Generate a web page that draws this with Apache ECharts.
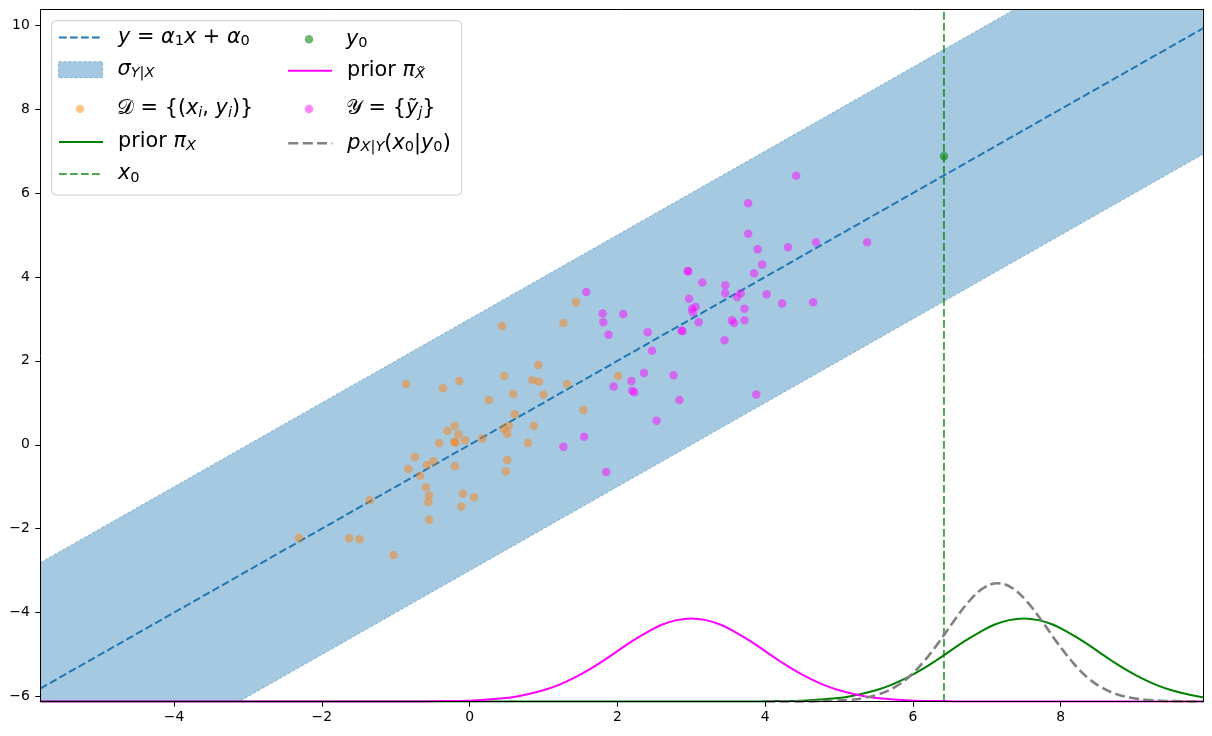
<!DOCTYPE html>
<html><head><meta charset="utf-8">
<script src="https://cdn.jsdelivr.net/npm/echarts@6/dist/echarts.min.js"></script>
<style>html,body{margin:0;padding:0;background:#fff}#c{width:1212px;height:736px}</style>
</head><body><div id="c"></div>
<script>
// ---- axis ranges & ticks ----
const xRange = [-5.81, 9.93];
const yRange = [-6.124, 10.38];
const xTicks = [-4, -2, 0, 2, 4, 6, 8];
const yTicks = [-6, -4, -2, 0, 2, 4, 6, 8, 10];

// ---- regression line and band ----
const fitX = [-5.81, 9.93];
const fitY = [-5.81, 9.93];
const bandX = [-5.81, 9.93];
const bandLow = [-8.81, 6.93];
const bandHigh = [-2.81, 12.93];

// ---- D = {(x_i, y_i)} ----
const dX = [-2.31,-1.63,-1.49,-1.03,-1.35,-0.86,-0.83,-0.74,-0.67,-0.59,-0.58,-0.55,-0.56,-0.55,-0.49,-0.41,-0.36,-0.30,-0.20,-0.15,-0.21,-0.19,-0.14,-0.06,-0.20,-0.09,0.06,-0.11,0.17,0.26,0.44,0.46,0.47,0.51,0.53,0.51,0.49,0.59,0.61,0.79,0.85,0.87,0.93,0.94,1.00,1.27,1.32,1.54,1.44,2.01];
const dY = [-2.22,-2.23,-2.25,-2.63,-1.32,1.45,-0.58,-0.29,-0.74,-1.01,-0.48,-1.21,-1.37,-1.79,-0.39,0.04,1.35,0.33,0.45,0.25,0.07,0.05,1.52,0.11,-0.51,-1.17,-1.25,-1.47,0.15,1.07,2.83,0.38,1.64,0.26,0.45,-0.36,-0.63,1.21,0.73,0.04,1.54,0.45,1.90,1.50,1.19,2.90,1.45,0.83,3.40,1.64];

// ---- Y = {y~_j} ----
const ytX = [4.42,3.77,3.77,3.90,4.31,4.69,5.38,3.96,3.85,2.95,2.96,3.15,3.46,3.46,3.67,3.62,4.02,2.97,3.06,3.01,3.02,3.72,4.23,4.65,3.10,3.55,3.58,3.72,2.87,2.88,3.45,2.76,2.84,3.88,1.58,1.80,1.81,2.08,1.88,2.41,2.47,2.36,2.19,1.95,2.20,2.23,2.53,1.55,1.27,1.85];
const ytY = [6.41,5.76,5.03,4.66,4.71,4.83,4.83,4.30,4.09,4.14,4.13,3.87,3.80,3.61,3.61,3.52,3.59,3.48,3.29,3.24,3.16,3.24,3.37,3.40,2.92,2.97,2.90,2.97,2.72,2.71,2.49,1.66,1.07,1.20,3.64,3.13,2.92,3.12,2.62,2.68,2.24,1.71,1.52,1.39,1.29,1.25,0.57,0.19,-0.05,-0.65];

// ---- x0, y0 ----
const x0 = 6.42;
const y0 = 6.88;

// ---- prior pi_X~ (magenta) ----
const priorXtX = [-5.81,-1.0,-0.8,-0.6,-0.4,-0.2,0.0,0.2,0.4,0.6,0.8,1.0,1.2,1.4,1.6,1.8,2.0,2.2,2.4,2.6,2.8,3.0,3.2,3.4,3.6,3.8,4.0,4.2,4.4,4.6,4.8,5.0,5.2,5.4,5.6,5.8,6.0,6.2,6.4,6.6,6.8,7.0,9.93];
const priorXtY = [-6.12,-6.12,-6.12,-6.12,-6.11,-6.11,-6.10,-6.08,-6.05,-6.01,-5.94,-5.85,-5.73,-5.57,-5.38,-5.16,-4.92,-4.68,-4.47,-4.29,-4.18,-4.14,-4.18,-4.29,-4.47,-4.68,-4.92,-5.16,-5.38,-5.57,-5.73,-5.85,-5.94,-6.01,-6.05,-6.08,-6.10,-6.11,-6.11,-6.12,-6.12,-6.12,-6.12];

// ---- prior pi_X (green) ----
const priorXX = [-5.81,3.5,3.7,3.9,4.1,4.3,4.5,4.7,4.9,5.1,5.3,5.5,5.7,5.9,6.1,6.3,6.5,6.7,6.9,7.1,7.3,7.5,7.7,7.9,8.1,8.3,8.5,8.7,8.9,9.1,9.3,9.5,9.7,9.9,9.93];
const priorXY = [-6.12,-6.12,-6.12,-6.12,-6.11,-6.11,-6.10,-6.08,-6.05,-6.01,-5.94,-5.85,-5.73,-5.57,-5.38,-5.16,-4.92,-4.68,-4.47,-4.29,-4.18,-4.14,-4.18,-4.29,-4.47,-4.68,-4.92,-5.16,-5.38,-5.57,-5.73,-5.85,-5.94,-6.01,-6.02];

// ---- posterior p_{X|Y}(x0|y0) (gray dashed) ----
const postX = [4.0,4.35,4.55,4.75,4.95,5.15,5.35,5.55,5.75,5.95,6.15,6.35,6.55,6.75,6.95,7.15,7.35,7.55,7.75,7.95,8.15,8.35,8.55,8.75,8.95,9.15,9.35,9.55,9.75,9.93];
const postY = [-6.12,-6.12,-6.12,-6.11,-6.10,-6.08,-6.03,-5.94,-5.78,-5.53,-5.16,-4.71,-4.21,-3.75,-3.42,-3.30,-3.42,-3.75,-4.21,-4.71,-5.16,-5.53,-5.78,-5.94,-6.03,-6.08,-6.10,-6.11,-6.12,-6.12];

const zip = (a, b) => a.map((v, i) => [v, b[i]]);

// ---- legend labels (rich text) ----
const legendText = {
  fit: '{i|y}{r| = }{i|α}{s|1}{i|x}{r| + }{i|α}{s|0}',
  band: '{i|σ}{si|Y|X}',
  D: '{c|𝒟}{r| = {(}{i|x}{si|i}{r|, }{i|y}{si|i}{r|)}}',
  priorX: 'prior {i|π}{si|X}',
  x0: '{i|x}{s|0}',
  y0: '{i|y}{s|0}',
  priorXt: 'prior {i|π}{si|X\u0303}',
  Yt: '{c|𝒴}{r| = {}{i|ỹ}{si|j}}',
  post: '{i|p}{si|X|Y}({i|x}{s|0}|{i|y}{s|0})'
};
const FF = "'DejaVu Sans', sans-serif";
const LH = 30;
const base = {fontFamily: FF, fontSize: 20.8, lineHeight: LH, color: '#000'};
const subBase = {fontFamily: FF, fontSize: 14.6, verticalAlign: 'bottom', padding: [0, 0, 3.5, 0], color: '#000'};
const legendTextStyle = Object.assign({}, base, {
  padding: [0, 0, 0, 10],
  rich: {
    r: base,
    i: Object.assign({}, base, {fontStyle: 'italic'}),
    c: Object.assign({}, base, {fontFamily: "'DejaVu Sans', 'DejaVu Serif', 'Noto Sans', serif"}),
    s: subBase,
    si: Object.assign({}, subBase, {fontStyle: 'italic'})
  }
});
const ICON_W = 44;
function leg(name, colX, center, itemHeight, extra, isDot) {
  return {
    show: true,
    left: isDot ? colX + (ICON_W - itemHeight) / 2 : colX,
    top: center - LH / 2, padding: 0, itemGap: 0,
    itemWidth: ICON_W, itemHeight: itemHeight, selectedMode: false, z: 6,
    data: [Object.assign({name: name}, extra || {})],
    formatter: n => legendText[n],
    textStyle: legendTextStyle
  };
}
const dash = [7.7, 3.3];
const C_BLUE = '#1f77b4';
const C_BAND = 'rgba(31,119,180,0.4)';
const C_ORANGE = 'rgba(255,127,14,0.6)';
const C_MAG = 'rgba(255,0,255,0.6)';
const C_G7 = 'rgba(0,128,0,0.7)';

// polygon clip (Sutherland-Hodgman) against grid rectangle, pixel space
function clipPoly(pts, r) {
  const x1 = r.x, x2 = r.x + r.width, y1 = r.y, y2 = r.y + r.height;
  const tests = [
    [p => p[0] >= x1, (a, b) => [x1, a[1] + (x1 - a[0]) / (b[0] - a[0]) * (b[1] - a[1])]],
    [p => p[0] <= x2, (a, b) => [x2, a[1] + (x2 - a[0]) / (b[0] - a[0]) * (b[1] - a[1])]],
    [p => p[1] >= y1, (a, b) => [a[0] + (y1 - a[1]) / (b[1] - a[1]) * (b[0] - a[0]), y1]],
    [p => p[1] <= y2, (a, b) => [a[0] + (y2 - a[1]) / (b[1] - a[1]) * (b[0] - a[0]), y2]]
  ];
  let out = pts;
  tests.forEach(([inside, inter]) => {
    const inp = out; out = [];
    for (let i = 0; i < inp.length; i++) {
      const cur = inp[i], prev = inp[(i + inp.length - 1) % inp.length];
      if (inside(cur)) { if (!inside(prev)) out.push(inter(prev, cur)); out.push(cur); }
      else if (inside(prev)) out.push(inter(prev, cur));
    }
  });
  return out;
}

const axisLbl = {color: '#000', fontSize: 13.9, fontFamily: FF};
const fmt = v => (v < 0 ? '\u2212' + Math.abs(v) : String(v));

const chart = echarts.init(document.getElementById('c'), null, {renderer: 'canvas'});
chart.setOption({
  animation: false,
  backgroundColor: '#fff',
  grid: {left: 40.3, right: 8.7, top: 9.3, bottom: 34.3, outerBoundsMode: 'none', containLabel: false},
  xAxis: [{
    type: 'value', min: xRange[0], max: xRange[1], z: 5,
    axisLine: {show: true, onZero: false, lineStyle: {color: '#000', width: 1}},
    axisTick: {show: true, inside: false, length: 5, customValues: xTicks, lineStyle: {color: '#000'}},
    axisLabel: Object.assign({customValues: xTicks, formatter: fmt, margin: 9}, axisLbl),
    splitLine: {show: false}
  }, {
    type: 'value', position: 'top', min: xRange[0], max: xRange[1], z: 5,
    axisLine: {show: true, onZero: false, lineStyle: {color: '#000', width: 1}},
    axisTick: {show: false}, axisLabel: {show: false}, splitLine: {show: false}
  }],
  yAxis: [{
    type: 'value', min: yRange[0], max: yRange[1], z: 5,
    axisLine: {show: true, onZero: false, lineStyle: {color: '#000', width: 1}},
    axisTick: {show: true, inside: false, length: 5, customValues: yTicks, lineStyle: {color: '#000'}},
    axisLabel: Object.assign({customValues: yTicks, formatter: fmt, margin: 10.5}, axisLbl),
    splitLine: {show: false}
  }, {
    type: 'value', position: 'right', min: yRange[0], max: yRange[1], z: 5,
    axisLine: {show: true, onZero: false, lineStyle: {color: '#000', width: 1}},
    axisTick: {show: false}, axisLabel: {show: false}, splitLine: {show: false}
  }],
  graphic: {elements: [{
    type: 'rect', z: 3,
    shape: {x: 51.7, y: 20.7, width: 410, height: 174.3, r: 4},
    style: {fill: 'rgba(255,255,255,0.8)', stroke: '#cccccc', lineWidth: 1}
  }]},
  legend: [
    leg('fit', 58, 37.5, 12, {itemStyle: {opacity: 0}, lineStyle: {type: dash, width: 2, color: C_BLUE}}),
    leg('band', 58, 69.7, 16, {icon: 'rect', itemStyle: {color: C_BAND, borderColor: 'rgba(31,119,180,0.45)', borderWidth: 1, borderType: [3, 2]}}),
    leg('D', 58, 109, 8.5, {icon: 'circle', itemStyle: {color: C_ORANGE}}, true),
    leg('priorX', 58, 142, 12, {itemStyle: {opacity: 0}, lineStyle: {type: 'solid', width: 2, color: 'green'}}),
    leg('x0', 58, 174, 12, {itemStyle: {opacity: 0}, lineStyle: {type: dash, width: 2, color: C_G7}}),
    leg('y0', 287, 39.3, 8.5, {icon: 'circle', itemStyle: {color: C_G7}}, true),
    leg('priorXt', 287, 70.7, 12, {itemStyle: {opacity: 0}, lineStyle: {type: 'solid', width: 2, color: '#ff00ff'}}),
    leg('Yt', 287, 109, 8.5, {icon: 'circle', itemStyle: {color: C_MAG}}, true),
    leg('post', 287, 143.3, 12, {itemStyle: {opacity: 0}, lineStyle: {type: [10, 4.4], width: 2.6, color: 'gray'}})
  ],
  series: [
    {
      name: 'band', type: 'custom', z: 2,
      itemStyle: {color: C_BAND},
      data: bandX.map((x, i) => [x, bandLow[i], bandHigh[i]]),
      encode: {x: 0, y: [1, 2]},
      renderItem: function (params, api) {
        if (params.dataIndex !== 0) return null;
        const up = bandX.map((x, i) => api.coord([x, bandHigh[i]]));
        const lo = bandX.map((x, i) => api.coord([x, bandLow[i]]));
        const poly = clipPoly(up.concat(lo.slice().reverse()), params.coordSys);
        return {type: 'polygon', shape: {points: poly}, style: {fill: C_BAND, stroke: null}};
      }
    },
    {name: 'bandEdgeLow', type: 'line', z: 2, symbol: 'none', silent: true, clip: true,
      data: zip(bandX, bandLow), lineStyle: {color: 'rgba(31,119,180,0.45)', width: 1, type: [3, 2]}},
    {name: 'bandEdgeHigh', type: 'line', z: 2, symbol: 'none', silent: true, clip: true,
      data: zip(bandX, bandHigh), lineStyle: {color: 'rgba(31,119,180,0.45)', width: 1, type: [3, 2]}},
    {name: 'fit', type: 'line', z: 2, symbol: 'none', clip: true, color: C_BLUE,
      data: zip(fitX, fitY), lineStyle: {color: C_BLUE, width: 2, type: dash}},
    {name: 'D', type: 'scatter', z: 3, symbol: 'circle', symbolSize: 8.5,
      data: zip(dX, dY), itemStyle: {color: C_ORANGE}},
    {name: 'priorX', type: 'line', z: 3, symbol: 'none', clip: true, color: 'green', smooth: 0.4,
      data: zip(priorXX, priorXY), lineStyle: {color: 'green', width: 2}},
    {name: 'x0', type: 'line', z: 3, symbol: 'none', clip: true, color: C_G7,
      data: [[x0, yRange[0]], [x0, yRange[1]]], lineStyle: {color: C_G7, width: 2, type: dash}},
    {name: 'y0', type: 'scatter', z: 3, symbol: 'circle', symbolSize: 8.5,
      data: [[x0, y0]], itemStyle: {color: C_G7}},
    {name: 'priorXt', type: 'line', z: 3, symbol: 'none', clip: true, color: '#ff00ff', smooth: 0.4,
      data: zip(priorXtX, priorXtY), lineStyle: {color: '#ff00ff', width: 2}},
    {name: 'Yt', type: 'scatter', z: 3, symbol: 'circle', symbolSize: 8.5,
      data: zip(ytX, ytY), itemStyle: {color: C_MAG}},
    {name: 'post', type: 'line', z: 3, symbol: 'none', clip: true, color: 'gray', smooth: 0.4,
      data: zip(postX, postY), lineStyle: {color: 'gray', width: 2.6, type: [10, 4.4]}}
  ]
});
</script>
</body></html>
